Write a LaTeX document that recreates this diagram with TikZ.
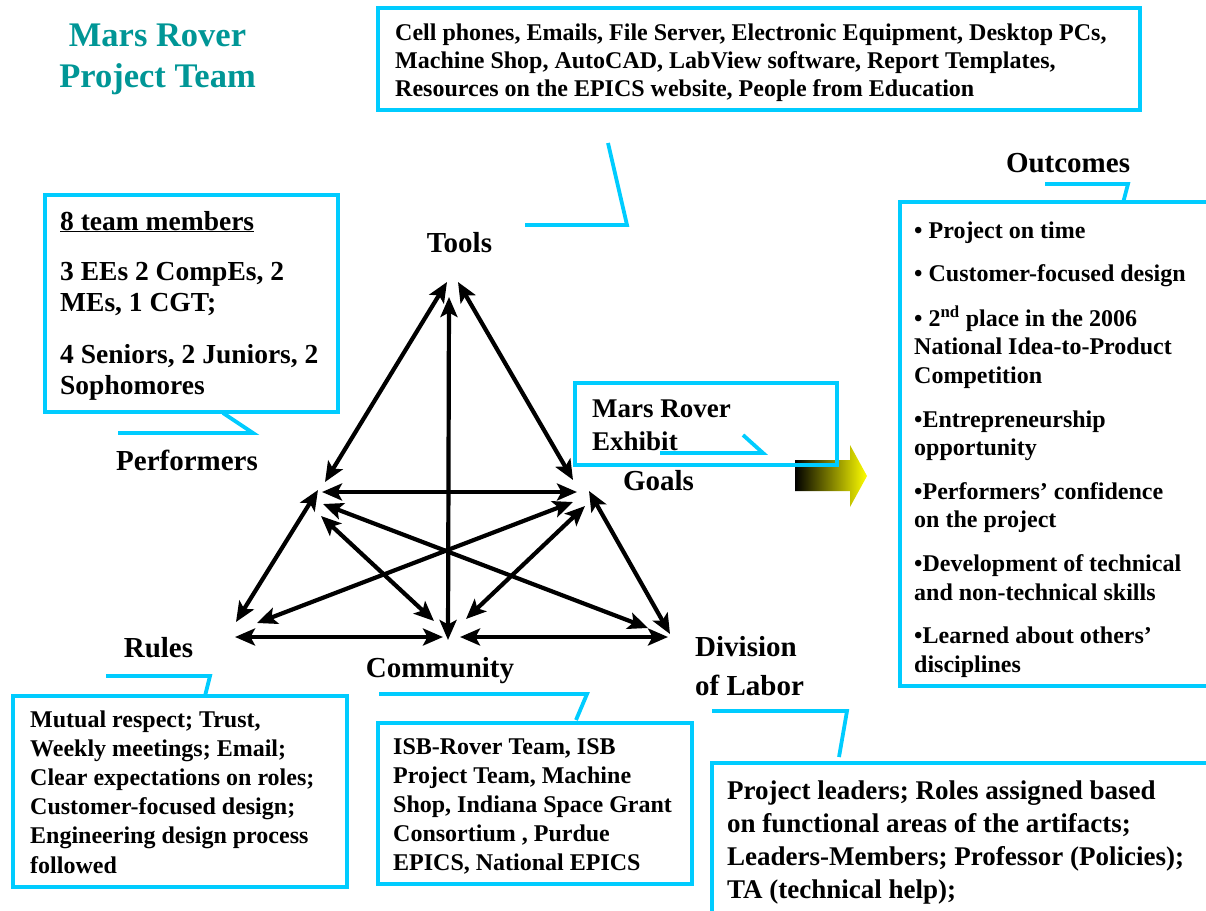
\documentclass[tikz,border=0pt]{standalone}
\usepackage{fontspec}
\setmainfont{Liberation Serif}
\usetikzlibrary{arrows.meta}
\definecolor{cy}{RGB}{0,204,255}
\definecolor{titlecol}{RGB}{0,150,150}
\newcommand\mrpar[2]{\parbox[t]{#1}{\raggedright #2}}
\begin{document}
\begin{tikzpicture}[x=1pt,y=-1pt,
  cbox/.style={draw=cy,line width=3.8pt},
  callout/.style={draw=cy,line width=3.8pt,line join=miter},
  biarrow/.style={line width=4.2pt,{Stealth[length=20pt,width=17pt,inset=4.5pt]}-{Stealth[length=20pt,width=17pt,inset=4.5pt]}},
  txt/.style={anchor=base west,inner sep=0pt},
  lbl/.style={anchor=base,inner sep=0pt,font=\fontsize{29}{33}\selectfont\bfseries},
]
\useasboundingbox (0,0) rectangle (1206,910);
\clip (0,0) rectangle (1206,910);

% title
\node[anchor=base,inner sep=0pt,text=titlecol,font=\fontsize{34.5}{41}\selectfont\bfseries] (title1) at (157.5,46) {Mars Rover};
\node[anchor=base,inner sep=0pt,text=titlecol,font=\fontsize{34.5}{41}\selectfont\bfseries] (title2) at (157.5,87) {Project Team};

% boxes
\draw[cbox] (378,8) rectangle (1140,110);
\draw[cbox] (45,195) rectangle (338,412);
\draw[cbox] (900,202) rectangle (1215,686);
\draw[cbox] (13,696) rectangle (347,887);
\draw[cbox] (378,723) rectangle (692,884);
\draw[cbox] (712,763) rectangle (1215,925);

% gradient arrow to outcomes
\shade[left color=black,right color=yellow] (795,460) -- (850,460) -- (850,445) -- (867,476) -- (850,507) -- (850,491) -- (795,491) -- cycle;
\draw[cbox] (575,383) rectangle (837,465);

% callouts
\coordinate (ct1) at (608,143); \coordinate (ct2) at (627,225); \coordinate (ct3) at (525,225);
\draw[callout] (ct1) -- (ct2) -- (ct3);
\coordinate (cp1) at (223,413); \coordinate (cp2) at (253,433); \coordinate (cp3) at (118,433);
\draw[callout] (cp1) -- (cp2) -- (cp3);
\coordinate (cg1) at (743,435); \coordinate (cg2) at (763,453); \coordinate (cg3) at (660,453);
\draw[callout] (cg1) -- (cg2) -- (cg3);
\coordinate (co1) at (1045,184); \coordinate (co2) at (1128,184); \coordinate (co3) at (1123,203);
\draw[callout] (co1) -- (co2) -- (co3);
\coordinate (cr1) at (106,676); \coordinate (cr2) at (210,676); \coordinate (cr3) at (205,696);
\draw[callout] (cr1) -- (cr2) -- (cr3);
\coordinate (cc1) at (379,694); \coordinate (cc2) at (587,694); \coordinate (cc3) at (576,720);
\draw[callout] (cc1) -- (cc2) -- (cc3);
\coordinate (cd1) at (712,711); \coordinate (cd2) at (847,711); \coordinate (cd3) at (839,757);
\draw[callout] (cd1) -- (cd2) -- (cd3);

% box texts
\node[txt,font=\fontsize{24}{28}\selectfont\bfseries] (toolstxt) at (395,40) {\mrpar{760pt}{Cell phones, Emails, File Server, Electronic Equipment, Desktop PCs,\\ Machine Shop, AutoCAD, LabView software, Report Templates,\\ Resources on the EPICS website, People from Education}};
\node[txt,font=\fontsize{27.5}{31}\selectfont\bfseries] (perftxt) at (60,230) {\mrpar{290pt}{\underline{8 team members}\\[19pt] 3 EEs 2 CompEs, 2\\ MEs, 1 CGT;\\[21pt] 4 Seniors, 2 Juniors, 2\\ Sophomores}};
\node[txt,font=\fontsize{27}{33}\selectfont\bfseries] (goaltxt) at (592,417) {\mrpar{250pt}{Mars Rover\\ Exhibit}};
\node[txt,font=\fontsize{24}{28.6}\selectfont\bfseries] (outtxt) at (914,238) {\mrpar{300pt}{• Project on time\\[15pt] • Customer-focused design\\[16pt] • 2\textsuperscript{nd} place in the 2006\\ National Idea-to-Product\\ Competition\\[15pt] •Entrepreneurship\\ opportunity\\[15pt] •Performers’ confidence\\ on the project\\[15pt] •Development of technical\\ and non-technical skills\\[15pt] •Learned about others’\\ disciplines}};
\node[txt,font=\fontsize{24}{29.2}\selectfont\bfseries] (rulestxt) at (30,727) {\mrpar{330pt}{Mutual respect; Trust,\\ Weekly meetings; Email;\\ Clear expectations on roles;\\ Customer-focused design;\\ Engineering design process\\ followed}};
\node[txt,font=\fontsize{24}{29}\selectfont\bfseries] (commtxt) at (393,754) {\mrpar{310pt}{ISB-Rover Team, ISB\\ Project Team, Machine\\ Shop, Indiana Space Grant\\ Consortium , Purdue\\ EPICS, National EPICS}};
\node[txt,font=\fontsize{27}{33}\selectfont\bfseries] (divtxt) at (727,799) {\mrpar{480pt}{Project leaders; Roles assigned based\\ on functional areas of the artifacts;\\ Leaders-Members; Professor (Policies);\\ TA (technical help);}};

% labels
\node[lbl] (tools) at (459.5,252) {Tools};
\node[lbl] (performers) at (187,470) {Performers};
\node[lbl] (goals) at (658.5,490) {Goals};
\node[lbl] (rules) at (158.5,657) {Rules};
\node[lbl] (community) at (440,677) {Community};
\node[lbl,anchor=base west] (division) at (695,656) {Division};
\node[lbl,anchor=base west] (oflabor) at (695,695) {of Labor};
\node[lbl] (outcomes) at (1068,172) {Outcomes};

% triangle arrows
\coordinate (a1s) at (447,282); \coordinate (a1e) at (325,482);
\coordinate (a2s) at (458,282); \coordinate (a2e) at (573,480);
\coordinate (a3s) at (449,297); \coordinate (a3e) at (448,640);
\coordinate (a4s) at (322,492); \coordinate (a4e) at (577,492);
\coordinate (a5s) at (318,490); \coordinate (a5e) at (236,622);
\coordinate (a6s) at (323,504); \coordinate (a6e) at (648,628);
\coordinate (a7s) at (321,516); \coordinate (a7e) at (434,621);
\coordinate (a8s) at (573,502); \coordinate (a8e) at (257,623);
\coordinate (a9s) at (589,491); \coordinate (a9e) at (670,634);
\coordinate (a10s) at (585,506); \coordinate (a10e) at (466,619);
\coordinate (a11s) at (235,637); \coordinate (a11e) at (443,637);
\coordinate (a12s) at (460,637); \coordinate (a12e) at (668,637);
\foreach \i in {1,...,12} {\draw[biarrow] (a\i s) -- (a\i e);}
\end{tikzpicture}
\end{document}
